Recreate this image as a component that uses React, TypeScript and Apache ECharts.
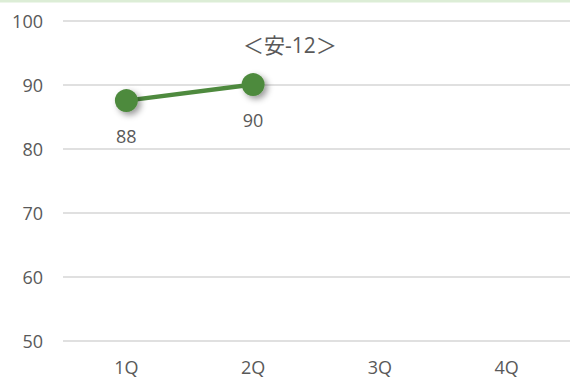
import React, { useEffect, useRef } from "react";
import * as echarts from "echarts";

const categories = ["1Q", "2Q", "3Q", "4Q"];
const scores: (number | null)[] = [87.5, 90, null, null];
const yMin = 50;
const yMax = 100;
const yStep = 10;
const titleText = "＜安-12＞";

const FONT = "'Open Sans', 'Noto Sans CJK JP', sans-serif";
const TEXT = "#595959";
const GREEN = "#4e8a3e";

export default function App() {
  const ref = useRef<HTMLDivElement>(null);
  useEffect(() => {
    if (!ref.current) return;
    const chart = echarts.init(ref.current, null, { renderer: "svg" });
    chart.setOption({
      animation: false,
      backgroundColor: "#ffffff",
      textStyle: { fontFamily: FONT },
      title: {
        text: titleText,
        left: 238,
        top: 29,
        textStyle: { fontFamily: FONT, fontSize: 21, fontWeight: "normal", color: TEXT },
      },
      graphic: [
        {
          type: "rect",
          left: 0,
          top: 0,
          shape: { width: 570, height: 2.5 },
          style: { fill: "#dcedd6" },
          silent: true,
        },
      ],
      grid: { left: 63, right: 0, top: 20.5, bottom: 41, containLabel: false },
      xAxis: {
        type: "category",
        data: categories,
        boundaryGap: true,
        axisLine: { show: false },
        axisTick: { show: false },
        axisLabel: { color: TEXT, fontSize: 18, fontFamily: FONT, margin: 17 },
      },
      yAxis: {
        type: "value",
        min: yMin,
        max: yMax,
        interval: yStep,
        axisLine: { show: false },
        axisTick: { show: false },
        axisLabel: { color: TEXT, fontSize: 18, fontFamily: FONT, margin: 20 },
        splitLine: { lineStyle: { color: "#e0e0e0", width: 2 } },
      },
      series: [
        {
          type: "line",
          data: scores,
          symbol: "circle",
          symbolSize: 23,
          connectNulls: false,
          lineStyle: { color: GREEN, width: 4.5 },
          itemStyle: {
            color: GREEN,
            shadowColor: "rgba(0,0,0,0.4)",
            shadowBlur: 6,
            shadowOffsetX: 3,
            shadowOffsetY: 3,
          },
          label: {
            show: true,
            position: "bottom",
            distance: 15,
            color: TEXT,
            fontSize: 18,
            fontFamily: FONT,
            formatter: (p: any) => String(Math.round(p.value)),
          },
          z: 3,
        },
      ],
    });
    return () => chart.dispose();
  }, []);
  return (
    <div
      ref={ref}
      style={{ position: "fixed", left: 0, top: 0, width: 570, height: 382 }}
    />
  );
}
